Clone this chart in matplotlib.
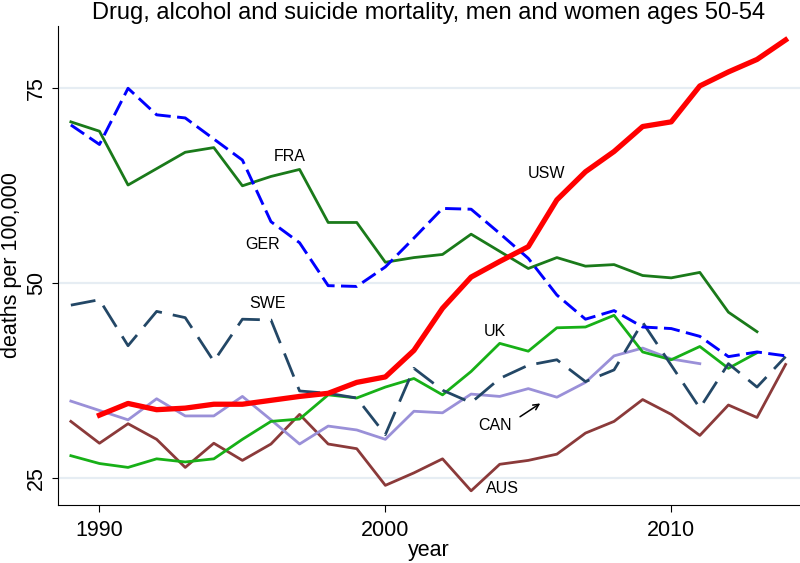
import numpy as np
import matplotlib.pyplot as plt

plt.rcParams["font.family"] = ["Liberation Sans", "DejaVu Sans"]

years = np.arange(1989, 2015)

usw = [np.nan, 33.1, 34.6, 33.8, 34.0, 34.5, 34.5, 35.0, 35.5, 35.9, 37.3, 38.0,
       41.4, 46.8, 50.8, 52.8, 54.7, 60.7, 64.3, 66.9, 70.1, 70.7, 75.3, 77.1, 78.7, 81.2]
fra = [70.7, 69.5, 62.6, 64.7, 66.8, 67.4, 62.5, 63.7, 64.6, 57.8, 57.8, 52.7,
       53.3, 53.7, 56.3, 54.1, 51.9, 53.3, 52.2, 52.4, 51.0, 50.7, 51.4, 46.3, 43.8, np.nan]
ger = [70.3, 67.8, 75.0, 71.6, 71.2, 68.5, 65.8, 57.9, 55.2, 49.7, 49.6, 52.1,
       55.8, 59.6, 59.5, 56.4, 53.2, 48.5, 45.4, 46.5, 44.4, 44.2, 43.2, 40.6, 41.2, 40.7]
swe = [47.2, 47.9, 42.0, 46.4, 45.6, 40.0, 45.4, 45.3, 36.2, 35.9, 35.3, 30.6,
       39.1, 36.3, 34.7, 37.8, 39.5, 40.2, 37.4, 38.9, 45.0, 39.5, 34.0, 39.7, 36.7, 40.6]
uk = [27.9, 26.9, 26.4, 27.5, 27.1, 27.5, 30.0, 32.3, 32.6, 35.7, 35.3, 36.7,
      37.8, 35.7, 38.7, 42.3, 41.3, 44.3, 44.4, 45.9, 41.2, 40.2, 41.9, 39.1, 41.1, np.nan]
can = [34.9, 33.7, 32.5, 35.2, 33.0, 33.0, 35.5, 32.5, 29.4, 31.7, 31.2, 30.0,
       33.6, 33.4, 35.8, 35.5, 36.5, 35.4, 37.3, 40.7, 41.7, 40.3, 39.7, np.nan, np.nan, np.nan]
aus = [32.3, 29.5, 32.0, 30.0, 26.4, 29.5, 27.3, 29.4, 33.2, 29.4, 28.8, 24.1,
       25.7, 27.5, 23.4, 26.8, 27.3, 28.1, 30.8, 32.3, 35.1, 33.2, 30.5, 34.4, 32.8, 39.6]

fig = plt.figure(figsize=(8, 5.63), dpi=100)
ax = fig.add_axes([0.0725, 0.103, 0.927, 0.851])

ax.plot(years, aus, color="#8b3a3a", lw=2.0)
ax.plot(years, can, color="#9a90d8", lw=2.0)
ax.plot(years, uk, color="#17b017", lw=2.0)
ax.plot(years, swe, color="#234766", lw=2.0, dashes=(9, 4))
ax.plot(years, fra, color="#1a7a1a", lw=2.0)
ax.plot(years, ger, color="#0000ff", lw=2.1, dashes=(5.5, 2.2))
ax.plot(years, usw, color="#ff0000", lw=3.8)

ax.text(1996.66, 66.2, "FRA", fontsize=11.5, ha="center", va="center")
ax.text(2005.65, 64.1, "USW", fontsize=11.5, ha="center", va="center")
ax.text(1995.72, 55.0, "GER", fontsize=11.5, ha="center", va="center")
ax.text(1995.87, 47.4, "SWE", fontsize=11.5, ha="center", va="center")
ax.text(2003.83, 43.8, "UK", fontsize=11.5, ha="center", va="center")
ax.text(2003.85, 31.8, "CAN", fontsize=11.5, ha="center", va="center")
ax.text(2004.1, 23.7, "AUS", fontsize=11.5, ha="center", va="center")
ax.annotate("", xy=(2005.5, 34.8), xytext=(2004.63, 32.7),
            arrowprops=dict(arrowstyle="->", color="black", lw=1.1))

ax.set_xlim(1988.55, 2014.49)
ax.set_ylim(21.58, 83.0)
ax.set_xticks([1990, 2000, 2010])
ax.set_yticks([25, 50, 75])
ax.yaxis.grid(True, color="#e6edf3", lw=1.6)
ax.set_axisbelow(True)
for s in ["top", "right"]:
    ax.spines[s].set_visible(False)
ax.tick_params(axis="x", labelsize=15.5, length=5, pad=6)
ax.tick_params(axis="y", labelsize=15.5, length=4, pad=4, labelrotation=90)
for lab in ax.get_yticklabels():
    lab.set_va("center")
ax.set_xlabel("year", fontsize=15.5, labelpad=-1)
ax.set_ylabel("deaths per 100,000", fontsize=15.5, labelpad=3)
ax.set_title("Drug, alcohol and suicide mortality, men and women ages 50-54",
             fontsize=17, pad=5)

fig.savefig("out.png", dpi=100)
